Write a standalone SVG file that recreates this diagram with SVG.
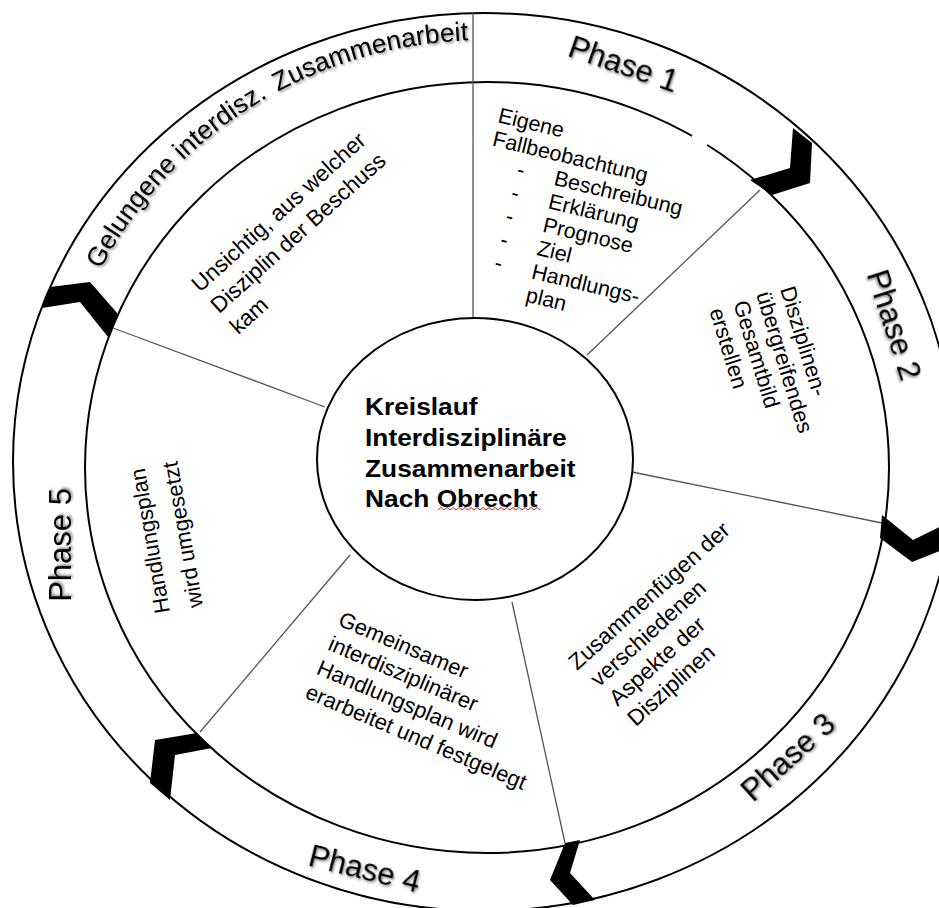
<svg xmlns="http://www.w3.org/2000/svg" width="939" height="908" viewBox="0 0 939 908">
<defs>
<style>
.ring{fill:none;stroke:#000;stroke-width:2}
.spoke{stroke:#555;stroke-width:1.3;fill:none}
.chev{fill:#000;stroke:none}
.t{font-family:"Liberation Sans",Arial,sans-serif;fill:#000}
.lbl{font-family:"Liberation Sans",Arial,sans-serif;fill:#000;filter:url(#sh)}
.title{font-family:"Liberation Sans",Arial,sans-serif;font-size:23.5px;font-weight:bold;fill:#000}
</style>
<filter id="sh" x="-20%" y="-30%" width="140%" height="160%">
<feDropShadow dx="1.5" dy="1.5" stdDeviation="1.2" flood-color="#000" flood-opacity="0.45"/>
</filter>
<path id="arcG" d="M100.6,269.4 A433,425 0 0 1 522.7,41.6" fill="none"/>
</defs>
<rect width="939" height="908" fill="#fff"/>

<g id="ring">
<ellipse cx="484" cy="462" rx="471" ry="449" class="ring"/>
<ellipse cx="487" cy="467.5" rx="402" ry="385.5" class="ring"/>
<line x1="692" y1="136" x2="707" y2="145" stroke="#fff" stroke-width="4"/>
</g>

<g id="connectors">
<line class="spoke" x1="473" y1="13" x2="473" y2="318"/>
<line class="spoke" x1="587" y1="355" x2="760" y2="190"/>
<line class="spoke" x1="632" y1="472" x2="882" y2="523"/>
<line class="spoke" x1="512" y1="602" x2="565" y2="843"/>
<line class="spoke" x1="350" y1="555" x2="200" y2="732"/>
<line class="spoke" x1="325" y1="407" x2="113" y2="328"/>
<polygon class="chev" points="793,128 812,143 810,183 772,195 750,180 790,168"/>
<polygon class="chev" points="882,515 913,540 952,521 957,544 912,562 880,538"/>
<polygon class="chev" points="565,843 580,840 570,873 595,900 573,905 550,880"/>
<polygon class="chev" points="197,733 212,748 175,755 170,800 150,783 155,740"/>
<polygon class="chev" points="50,287 90,282 118,314 108,337 80,302 42,308"/>
</g>

<g id="center">
<ellipse cx="475" cy="459" rx="158" ry="141" fill="#fff" stroke="#000" stroke-width="2"/>
<text class="title" transform="translate(365,0) scale(1.12,1)">
<tspan x="0" y="415">Kreislauf</tspan>
<tspan x="0" y="446">Interdisziplinäre</tspan>
<tspan x="0" y="477">Zusammenarbeit</tspan>
<tspan x="0" y="507">Nach Obrecht</tspan>
</text>
<path d="M438,510 l3,-2.5 l3,2.5 l3,-2.5 l3,2.5 l3,-2.5 l3,2.5 l3,-2.5 l3,2.5 l3,-2.5 l3,2.5 l3,-2.5 l3,2.5 l3,-2.5 l3,2.5 l3,-2.5 l3,2.5 l3,-2.5 l3,2.5 l3,-2.5 l3,2.5 l3,-2.5 l3,2.5 l3,-2.5 l3,2.5 l3,-2.5 l3,2.5 l3,-2.5 l3,2.5 l3,-2.5 l3,2.5 l3,-2.5 l3,2.5 l3,-2.5 l3,2.5" fill="none" stroke="#e02020" stroke-width="1"/>
</g>

<g id="label-gelungene">
<text class="lbl" style="font-size:26.5px"><textPath href="#arcG">Gelungene interdisz. <tspan dx="4">Zusammenarbeit</tspan></textPath></text>
</g>
<g id="label-phase1"><text class="lbl" style="font-size:31px" text-anchor="middle" transform="translate(620,74) rotate(19)">Phase 1</text></g>
<g id="label-phase2"><text class="lbl" style="font-size:31px" text-anchor="middle" transform="translate(884,328) rotate(72)">Phase 2</text></g>
<g id="label-phase3"><text class="lbl" style="font-size:31px" text-anchor="middle" transform="translate(795,765) rotate(-42)">Phase 3</text></g>
<g id="label-phase4"><text class="lbl" style="font-size:31px" text-anchor="middle" transform="translate(362,879) rotate(14)">Phase 4</text></g>
<g id="label-phase5"><text class="lbl" style="font-size:31px" text-anchor="middle" transform="translate(71,545) rotate(-90)">Phase 5</text></g>

<g id="sector-top-left">
<text class="t" style="font-size:22.5px" transform="translate(200,293) rotate(-42)">
<tspan x="0" y="0">Unsichtig, aus welcher</tspan>
<tspan x="0" y="28.5">Disziplin der Beschuss</tspan>
<tspan x="0" y="57">kam</tspan>
</text>
</g>

<g id="sector-phase1">
<text class="t" style="font-size:21.5px" transform="translate(497,122) rotate(13.5)">
<tspan x="0" y="0">Eigene</tspan>
<tspan x="0" y="24">Fallbeobachtung</tspan>
<tspan x="31" y="48">-</tspan><tspan x="69" y="48">Beschreibung</tspan>
<tspan x="31" y="72">-</tspan><tspan x="69" y="72">Erklärung</tspan>
<tspan x="31" y="96">-</tspan><tspan x="69" y="96">Prognose</tspan>
<tspan x="31" y="120">-</tspan><tspan x="69" y="120">Ziel</tspan>
<tspan x="31" y="144">-</tspan><tspan x="69" y="144">Handlungs-</tspan>
<tspan x="69" y="168">plan</tspan>
</text>
</g>

<g id="sector-phase2">
<text class="t" style="font-size:22px" transform="translate(780,289) rotate(73)">
<tspan x="0" y="0">Disziplinen-</tspan>
<tspan x="-2" y="24.5">übergreifendes</tspan>
<tspan x="0" y="49">Gesamtbild</tspan>
<tspan x="0" y="74">erstellen</tspan>
</text>
</g>

<g id="sector-phase3">
<text class="t" style="font-size:22.5px" transform="translate(577,671) rotate(-42)">
<tspan x="0" y="0">Zusammenfügen der</tspan>
<tspan x="5" y="27">verschiedenen</tspan>
<tspan x="6" y="54">Aspekte der</tspan>
<tspan x="6" y="81">Disziplinen</tspan>
</text>
</g>

<g id="sector-phase4">
<text class="t" style="font-size:22px" transform="translate(337,625) rotate(23)">
<tspan x="0" y="0">Gemeinsamer</tspan>
<tspan x="0" y="26.5">interdisziplinärer</tspan>
<tspan x="-1" y="53">Handlungsplan wird</tspan>
<tspan x="-2" y="79.5">erarbeitet und festgelegt</tspan>
</text>
</g>

<g id="sector-phase5">
<text class="t" style="font-size:22px" transform="translate(170,612) rotate(-100)">
<tspan x="0" y="0">Handlungsplan</tspan>
<tspan x="0" y="33.5">wird umgesetzt</tspan>
</text>
</g>
</svg>
